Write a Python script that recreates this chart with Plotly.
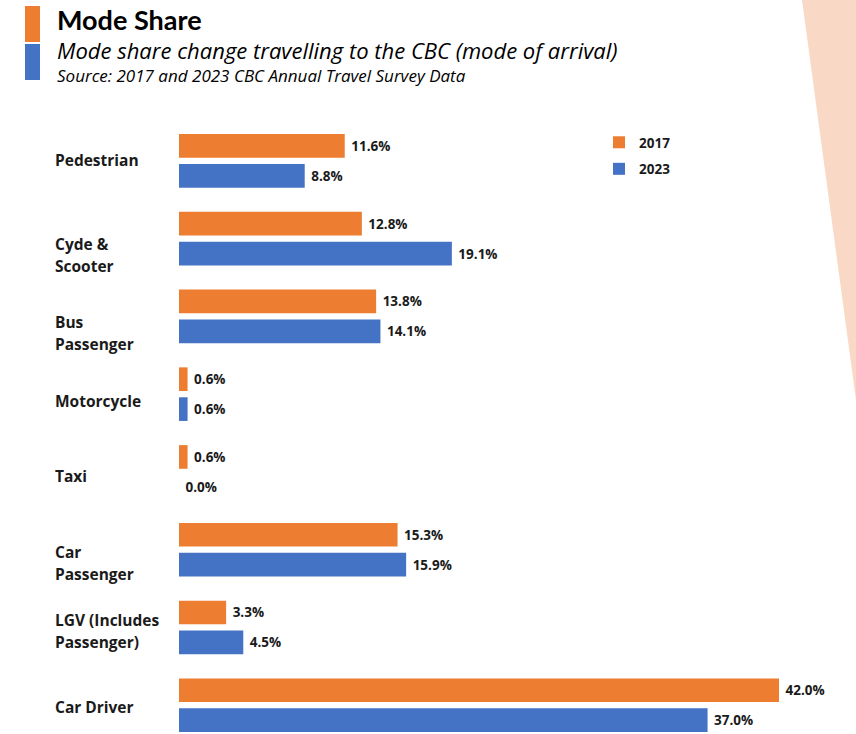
import plotly.graph_objects as go

categories = ["Pedestrian", "Cyde &<br>Scooter", "Bus<br>Passenger", "Motorcycle", "Taxi",
              "Car<br>Passenger", "LGV (Includes<br>Passenger)", "Car Driver"]
share_2017 = [11.6, 12.8, 13.8, 0.6, 0.6, 15.3, 3.3, 42.0]
share_2023 = [8.8, 19.1, 14.1, 0.6, 0.0, 15.9, 4.5, 37.0]
series_names = ["2017", "2023"]

W, H = 856, 734
ORANGE = "#ED7D31"
BLUE = "#4472C4"
FONT = "Open Sans"
TXT = "#1a1a1a"

x0_px, top_px = 179, 120
xdom = [x0_px / W, 1]
ydom = [0, 1 - top_px / H]

fig = go.Figure()
for name, vals, col, off in [(series_names[0], share_2017, ORANGE, -0.345),
                             (series_names[1], share_2023, BLUE, 0.04)]:
    fig.add_trace(go.Bar(
        y=categories, x=vals, orientation="h", name=name,
        marker=dict(color=col, line=dict(width=0)),
        width=0.304, offset=off,
        text=["\u00a0" + f"{v:.1f}%" for v in vals], textposition="outside",
        textfont=dict(family=FONT, size=13.5, color=TXT, weight="bold"),
        cliponaxis=False, legendgroup=name,
    ))

# category labels (left aligned, one annotation per line, 22px line pitch)
label_dy = [-1, 5, 6, 7, 4, 2, -7, 2]
for cat, dy in zip(categories, label_dy):
    for k, line in enumerate(cat.split("<br>")):
        fig.add_annotation(x=53 / W, xref="paper", y=cat, yref="y", text=line,
                           xanchor="left", yanchor="middle", yshift=-(dy + 22 * k),
                           showarrow=False, align="left",
                           font=dict(family=FONT, size=15.5, color=TXT, weight="bold"))

# header
fig.add_shape(type="rect", xref="paper", yref="paper", x0=25 / W, x1=40 / W,
              y0=1 - 6 / H, y1=1 - 42 / H, fillcolor=ORANGE, line=dict(width=0))
fig.add_shape(type="rect", xref="paper", yref="paper", x0=25 / W, x1=40 / W,
              y0=1 - 44 / H, y1=1 - 80 / H, fillcolor=BLUE, line=dict(width=0))
fig.add_annotation(x=55 / W, y=1 - 20 / H, xref="paper", yref="paper", text="<b>Mode Share</b>",
                   xanchor="left", yanchor="middle", showarrow=False,
                   font=dict(family="Lato", size=27, color="#000"))
fig.add_annotation(x=55 / W, y=1 - 50 / H, xref="paper", yref="paper",
                   text="<i>Mode share change travelling to the CBC (mode of arrival)</i>",
                   xanchor="left", yanchor="middle", showarrow=False,
                   font=dict(family=FONT, size=22, color="#000"))
fig.add_annotation(x=55 / W, y=1 - 76 / H, xref="paper", yref="paper",
                   text="<i>Source: 2017 and 2023 CBC Annual Travel Survey Data</i>",
                   xanchor="left", yanchor="middle", showarrow=False,
                   font=dict(family=FONT, size=17, color="#000"))

# decorative wedge
fig.add_shape(type="path", xref="paper", yref="paper",
              path=f"M {802/W},{1.0} L {1.0},{1.0} L {1.0},{1-400/H} Z",
              fillcolor="#F9D9C5", line=dict(width=0), layer="below")

fig.update_layout(
    width=W, height=H, margin=dict(l=0, r=0, t=0, b=0),
    paper_bgcolor="white", plot_bgcolor="rgba(0,0,0,0)",
    barmode="overlay", showlegend=True,
    legend=dict(x=599 / W, y=1 - 127 / H, xanchor="left", yanchor="top",
                font=dict(family=FONT, size=13.5, color=TXT, weight="bold"),
                tracegroupgap=6, bgcolor="rgba(0,0,0,0)"),
    xaxis=dict(domain=xdom, range=[0, (W - x0_px) / (600 / 42.0)], visible=False, fixedrange=True),
    yaxis=dict(domain=ydom, range=[7.37, -0.526], visible=False, type="category",
               categoryarray=categories, categoryorder="array"),
)

fig.write_html("out.html")
